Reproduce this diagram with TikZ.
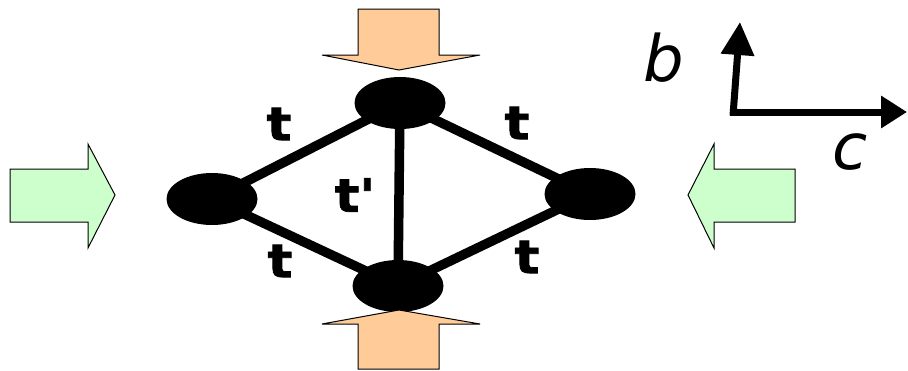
\documentclass[tikz,border=0pt]{standalone}
\usepackage{fontspec}
\setmainfont{DejaVu Sans}
\newfontfamily\hopfont[FakeBold=1.6]{DejaVu Sans Bold}
\usetikzlibrary{shapes.geometric,arrows.meta}
\definecolor{pushgreen}{HTML}{CCFFCC}
\definecolor{pushorange}{HTML}{FFCC99}
\tikzset{
  site/.style={ellipse,fill=black,draw=none,minimum width=91pt,minimum height=52pt,inner sep=0pt},
  bond/.style={line width=9.5pt},
  hop/.style={font=\fontsize{46}{46}\hopfont,inner sep=0pt,xscale=1.12},
  axislabel/.style={font=\fontsize{64}{64}\selectfont\itshape,inner sep=0pt},
  axis/.style={line width=7pt},
  blockarrow/.style={draw=black,line width=1pt,line join=miter},
}
\begin{document}
\begin{tikzpicture}[x=1pt,y=-1pt]
  \useasboundingbox (0,0) rectangle (908,370);

  % lattice sites
  \node[site] (L) at (212,199) {};
  \node[site] (T) at (400,103) {};
  \node[site] (R) at (590,194) {};
  \node[site] (B) at (398,286) {};

  % bonds between sites
  \draw[bond] (L.center) -- (T.center);
  \draw[bond] (T.center) -- (R.center);
  \draw[bond] (L.center) -- (B.center);
  \draw[bond] (B.center) -- (R.center);
  \draw[bond] (T.center) -- (B.center);

  % hopping labels
  \node[hop] (tTL) at (279,124) {t};
  \node[hop] (tTR) at (517,123) {t};
  \node[hop] (tBL) at (280,261) {t};
  \node[hop] (tBR) at (527,257) {t};
  \node[hop] (tp)  at (355,195) {t\textquotesingle};

  % pressure arrows along c
  \draw[blockarrow,fill=pushgreen]
    (10,169) -- (88,169) -- (88,144) -- (115,195) -- (88,248) -- (88,222) -- (10,222) -- cycle;
  \draw[blockarrow,fill=pushgreen]
    (795,169) -- (714,169) -- (714,144) -- (688,195) -- (714,248) -- (714,222) -- (795,222) -- cycle;

  % pressure arrows along b
  \draw[blockarrow,fill=pushorange]
    (358,9) -- (439,9) -- (439,55) -- (480,55) -- (399,70) -- (322,55) -- (358,55) -- cycle;
  \draw[blockarrow,fill=pushorange]
    (358,369) -- (439,369) -- (439,324) -- (480,324) -- (399,310) -- (322,324) -- (358,324) -- cycle;

  % crystal axes
  \coordinate (O) at (733,112);
  \coordinate (btip) at (740,22);
  \coordinate (ctip) at (907,112);
  \draw[axis,-{Triangle[length=33pt,width=32pt]}] ([shift={(0,3.5)}]O) -- (btip);
  \draw[axis,-{Triangle[length=26pt,width=31pt]}] ([shift={(-3.5,0)}]O) -- (ctip);
  \node[axislabel] (blab) at (664,58) {b};
  \node[axislabel] (clab) at (850,152) {c};
\end{tikzpicture}
\end{document}
